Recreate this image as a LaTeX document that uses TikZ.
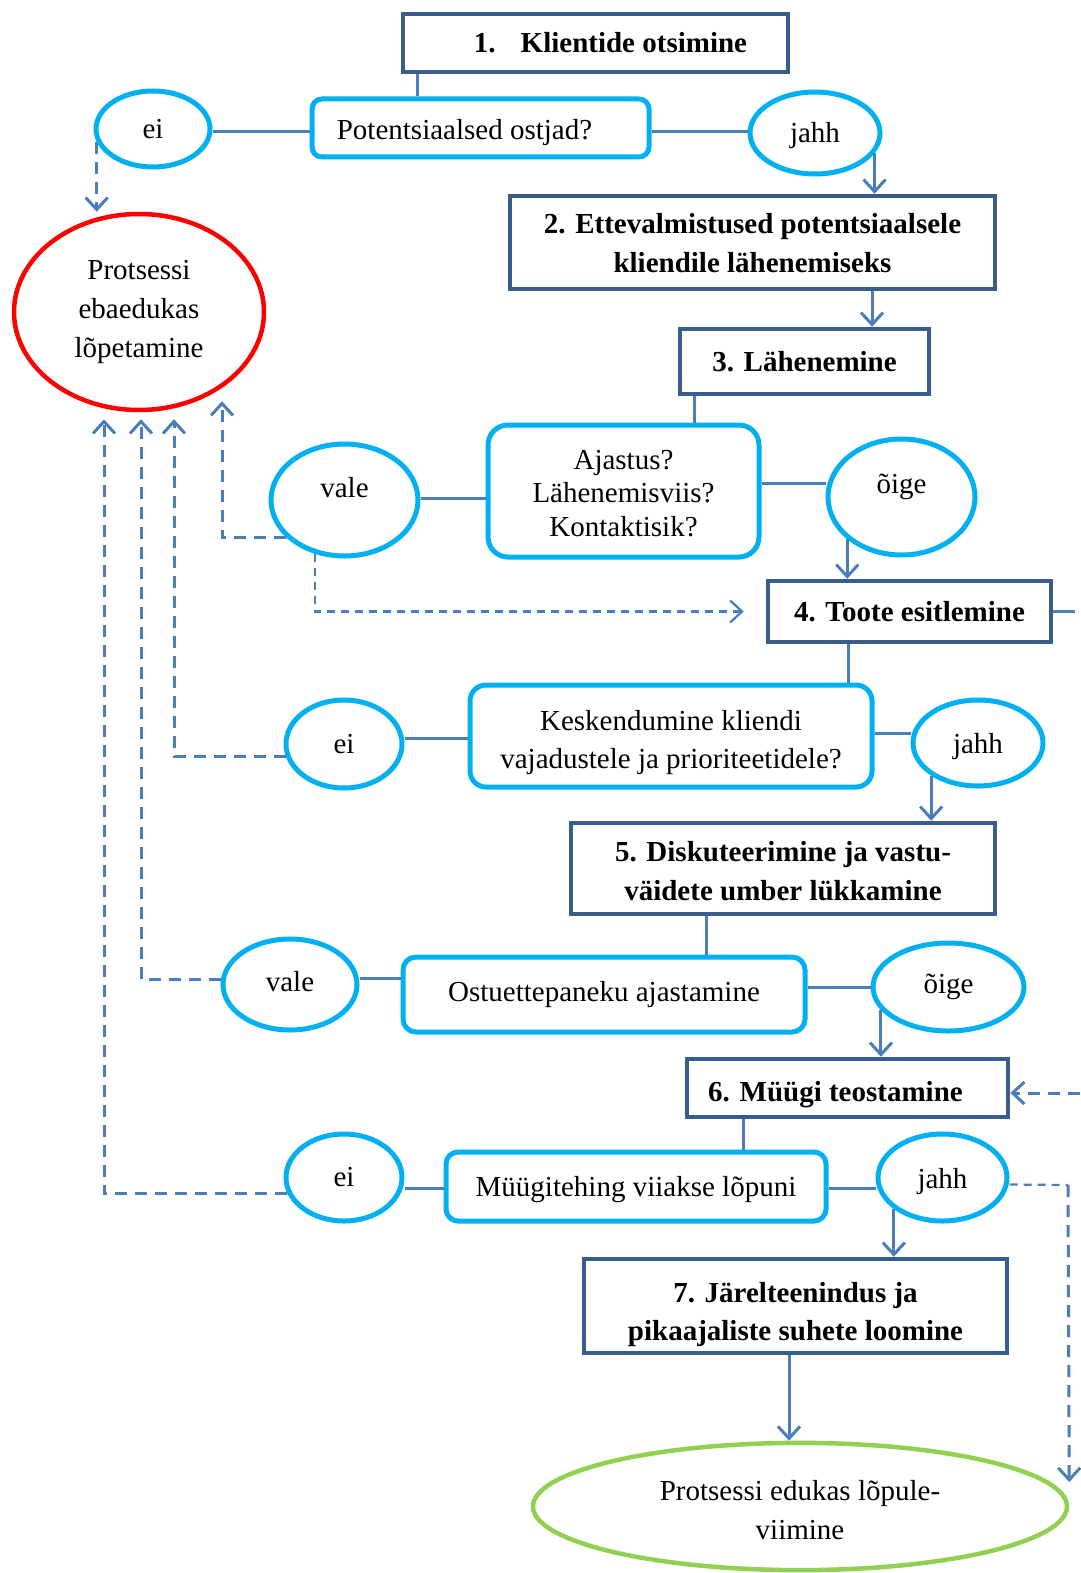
\documentclass[tikz,border=0pt]{standalone}
\usepackage{fontspec}
\setmainfont{Liberation Serif}
\usetikzlibrary{shapes.geometric,arrows.meta}

\definecolor{boxblue}{RGB}{56,93,138}
\definecolor{lineblue}{RGB}{74,126,187}
\definecolor{qcyan}{RGB}{0,176,240}
\definecolor{failred}{RGB}{255,0,0}
\definecolor{okgreen}{RGB}{146,208,80}

% lower a node's text by half of #1
\newcommand\pushdown[2]{\raisebox{0pt}[\dimexpr\height+#1\relax][\depth]{#2}}
% centred stack of lines
\newcommand\stack[1]{\begin{tabular}{@{}c@{}}#1\end{tabular}}

\begin{document}
\begin{tikzpicture}[x=1pt,y=-1pt,
  txt/.style={font=\fontsize{29}{38}\selectfont},
  stepbox/.style={draw=boxblue, line width=4.5pt, fill=white, align=center, inner sep=0pt,
    font=\bfseries\fontsize{29}{38.5}\selectfont},
  qbox/.style={draw=qcyan, line width=5pt, fill=white, align=center, inner sep=0pt, txt},
  choice/.style={ellipse, draw=qcyan, line width=5pt, fill=white, inner sep=0pt, txt},
  endfail/.style={ellipse, draw=failred, line width=4.5pt, fill=white, inner sep=0pt, align=center,
    font=\fontsize{29}{39}\selectfont},
  endok/.style={ellipse, draw=okgreen, line width=4.5pt, fill=white, inner sep=0pt, align=center,
    font=\fontsize{29}{39}\selectfont},
  tip/.style={-{Straight Barb[length=12pt,width=22pt]}},
  link/.style={draw=lineblue, line width=3pt},
  flow/.style={link, tip},
  back/.style={draw=lineblue, line width=3pt, dash pattern=on 12pt off 8pt},
  skip/.style={draw=lineblue, line width=2.2pt, dash pattern=on 8pt off 6pt},
]
\path[use as bounding box, fill=white] (0,0) rectangle (1080,1573);

% ---- steps and questions ----
\node[stepbox, minimum width=385pt, minimum height=58pt] (box1) at (595.5,43)
  {\hspace*{30pt}1.\hspace{25pt}Klientide otsimine};
\node[qbox, rounded corners=10pt, minimum width=337pt, minimum height=58pt] (q1) at (480.5,128)
  {\pushdown{10pt}{Potentsiaalsed ostjad?}\hspace*{32pt}};
\node[choice, minimum width=114pt, minimum height=76pt] (ei1) at (153,129) {ei};
\node[choice, minimum width=130pt, minimum height=82pt] (jahh1) at (815,133) {\pushdown{6pt}{jahh}};
\node[endfail, minimum width=250pt, minimum height=196pt] (fail) at (139,312)
  {Protsessi\\ebaedukas\\lõpetamine};

\node[stepbox, minimum width=485pt, minimum height=93pt] (box2) at (752.5,242.5)
  {\pushdown{6pt}{\stack{2. Ettevalmistused potentsiaalsele\\kliendile lähenemiseks}}};
\node[stepbox, minimum width=249pt, minimum height=65pt] (box3) at (804.5,361.5) {3. Lähenemine};
\node[qbox, rounded corners=20pt, minimum width=271pt, minimum height=132pt,
  font=\fontsize{29}{33.5}\selectfont] (q2) at (623.5,491)
  {\pushdown{10pt}{\stack{Ajastus?\\Lähenemisviis?\\Kontaktisik?}}};
\node[choice, minimum width=147pt, minimum height=112pt] (vale1) at (344.5,500) {\raisebox{26pt}{vale}};
\node[choice, minimum width=147pt, minimum height=116pt] (oige1) at (901.5,497) {\raisebox{26pt}{õige}};

\node[stepbox, minimum width=283pt, minimum height=61pt] (box4) at (909.5,611.5) {4. Toote esitlemine};
\node[qbox, rounded corners=16pt, minimum width=402pt, minimum height=102pt] (q3) at (671,736)
  {\pushdown{12pt}{\stack{Keskendumine kliendi\\vajadustele ja prioriteetidele?}}};
\node[choice, minimum width=116pt, minimum height=88pt] (ei2) at (344,744) {ei};
\node[choice, minimum width=130pt, minimum height=86pt] (jahh2) at (978,743) {\pushdown{8pt}{jahh}};

\node[stepbox, minimum width=424pt, minimum height=91pt] (box5) at (783,868.5)
  {\pushdown{10pt}{\stack{5. Diskuteerimine ja vastu-\\väidete umber lükkamine}}};
\node[qbox, rounded corners=13pt, minimum width=402pt, minimum height=75pt] (q4) at (604,994.5)
  {Ostuettepaneku ajastamine};
\node[choice, minimum width=134pt, minimum height=91pt] (vale2) at (290,984.5) {\raisebox{7pt}{vale}};
\node[choice, minimum width=151pt, minimum height=88pt] (oige2) at (948.5,987) {\raisebox{4pt}{õige}};

\node[stepbox, minimum width=321pt, minimum height=58pt] (box6) at (847.5,1088)
  {\pushdown{14pt}{6. Müügi teostamine}\hspace*{24pt}};
\node[qbox, rounded corners=12pt, minimum width=380pt, minimum height=69pt] (q5) at (636,1186.5)
  {\pushdown{6pt}{Müügitehing viiakse lõpuni}};
\node[choice, minimum width=116pt, minimum height=87pt] (ei3) at (344,1177.5) {ei};
\node[choice, minimum width=129pt, minimum height=87pt] (jahh3) at (942.5,1177.5) {\pushdown{8pt}{jahh}};

\node[stepbox, minimum width=423pt, minimum height=94pt] (box7) at (795.5,1306)
  {\pushdown{16pt}{\stack{7. Järelteenindus ja\\pikaajaliste suhete loomine}}};
\node[endok, minimum width=534pt, minimum height=125pt] (succ) at (800,1506.5)
  {\pushdown{12pt}{\stack{Protsessi edukas lõpule-\\viimine}}};

% free ends at the right margin
\coordinate (edgeA) at (1080,611.5);
\coordinate (edgeB) at (1080,1093);
\coordinate (turnC) at (1068,1185);

% ---- stage 1 ----
\draw[link] ([xshift=17pt]box1.south west) -- ([xshift=17pt]box1.south west |- q1.north);
\draw[link] ([yshift=-3pt]ei1.east) -- ([yshift=-3pt]ei1.east -| q1.west);
\draw[link] ([yshift=-4pt]q1.east) -- ([yshift=-4pt]q1.east -| jahh1.west);
\draw[flow] (jahh1.-19) -- (jahh1.-19 |- box2.north);
\draw[back, tip] (ei1.-167) -- (ei1.-167 |- fail.north);

% ---- stages 2 and 3 ----
\draw[flow] ([xshift=119.5pt]box2.south) -- ([xshift=119.5pt]box2.south |- box3.north);
\draw[link] ([xshift=17pt]box3.south west) -- ([xshift=17pt]box3.south west |- q2.north);
\draw[link] ([yshift=2pt]vale1.east) -- ([yshift=2pt]vale1.east -| q2.west);
\draw[link] ([yshift=8pt]q2.east) -- ([yshift=8pt]q2.east -| oige1.west);
\draw[flow] (oige1.-142.5) -- (oige1.-142.5 |- box4.north);
\draw[back, tip] (vale1.-147) -| ([xshift=83pt,yshift=11pt]fail.south);
\draw[skip, tip] (vale1.-119.4) |- ([xshift=-22pt]box4.west);

% ---- stage 4 ----
\draw[link] (box4.east) -- ++(14pt,0pt) coordinate (b4out);
\draw[skip] (b4out) -- (edgeA);
\draw[link] ([xshift=-61.5pt]box4.south) -- ([xshift=-61.5pt]box4.south |- q3.north);
\draw[link] ([yshift=6pt]ei2.east) -- ([yshift=6pt]ei2.east -| q3.west);
\draw[link] ([yshift=3pt]q3.east) -- ([yshift=3pt]q3.east -| jahh2.west);
\draw[flow] (jahh2.-145.6) -- (jahh2.-145.6 |- box5.north);
\draw[back, tip] (ei2.-168) -| ([xshift=35pt,yshift=-7pt]fail.south);

% ---- stage 5 ----
\draw[link] ([xshift=-77pt]box5.south) -- ([xshift=-77pt]box5.south |- q4.north);
\draw[link] ([yshift=6pt]vale2.east) -- ([yshift=6pt]vale2.east -| q4.west);
\draw[link] (q4.east |- oige2.west) -- (oige2.west);
\draw[flow] (oige2.-161.5) -- (oige2.-161.5 |- box6.north);
\draw[back, tip] ([yshift=5pt]vale2.west) -| ([xshift=2pt,yshift=-7pt]fail.south);

% ---- stage 6 ----
\draw[back, tip] (edgeB) -- (edgeB -| box6.east);
\draw[link] ([xshift=-104.5pt]box6.south) -- ([xshift=-104.5pt]box6.south |- q5.north);
\draw[link] ([yshift=-2pt]q5.west -| ei3.east) -- ([yshift=-2pt]q5.west);
\draw[link] ([yshift=-2pt]q5.east) -- ([yshift=-2pt]q5.east -| jahh3.west);
\draw[flow] (jahh3.-147.2) -- (jahh3.-147.2 |- box7.north);
\draw[skip] ([yshift=-7pt]jahh3.east) -- (turnC);
\draw[back, tip] (turnC) -- ([yshift=24.5pt]succ.east);
\draw[back, tip] (ei3.-164.3) -| ([xshift=-35pt,yshift=-7pt]fail.south);

% ---- stage 7 ----
\draw[flow] ([xshift=-6.5pt]box7.south) -- ([xshift=-6.5pt]box7.south |- succ.north);
\end{tikzpicture}
\end{document}
